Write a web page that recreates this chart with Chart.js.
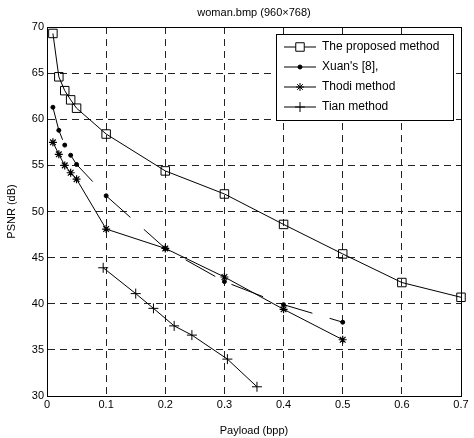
<!DOCTYPE html>
<html>
<head>
<meta charset="utf-8">
<script src="https://cdn.jsdelivr.net/npm/chart.js@4"></script>
<style>
  html, body { margin: 0; padding: 0; background: #fff; }
  #wrap { width: 474px; height: 438px; }
</style>
</head>
<body>
<div id="wrap"><canvas id="psnrChart" width="474" height="438"></canvas></div>
<script>
// Data
const proposedX = [0.01, 0.02, 0.03, 0.04, 0.05, 0.1, 0.2, 0.3, 0.4, 0.5, 0.6, 0.7];
const proposedY = [69.3, 64.6, 63.1, 62.1, 61.2, 58.4, 54.4, 51.9, 48.6, 45.4, 42.3, 40.7];

const xuanX = [0.01, 0.02, 0.03, 0.04, 0.05, 0.1, 0.2, 0.3, 0.4, 0.5];
const xuanY = [61.3, 58.8, 57.2, 56.1, 55.1, 51.7, 46.0, 42.4, 39.9, 38.0];

const thodiX = [0.01, 0.02, 0.03, 0.04, 0.05, 0.1, 0.2, 0.3, 0.4, 0.5];
const thodiY = [57.5, 56.2, 55.0, 54.2, 53.5, 48.1, 46.0, 42.9, 39.4, 36.1];

const tianX = [0.095, 0.15, 0.18, 0.215, 0.245, 0.305, 0.355];
const tianY = [43.9, 41.1, 39.5, 37.6, 36.6, 34.0, 31.0];

const seriesLabels = ['The proposed method', "Xuan's [8],", 'Thodi method', 'Tian method'];

const xTicks = [0, 0.1, 0.2, 0.3, 0.4, 0.5, 0.6, 0.7];
const yTicks = [30, 35, 40, 45, 50, 55, 60, 65, 70];

const toPoints = (xs, ys) => xs.map((x, i) => ({ x: x, y: ys[i] }));
const FONT = 'Liberation Sans, Arial, sans-serif';

// title, box frame and legend drawn inside the plot like the original
const framePlugin = {
    id: 'frame',
    afterDraw(chart) {
        const ctx = chart.ctx;
        const a = chart.chartArea;
        ctx.save();
        ctx.strokeStyle = '#000';
        ctx.lineWidth = 1;
        ctx.setLineDash([]);
        ctx.strokeRect(a.left + 0.5, a.top + 0.5, a.right - a.left, a.bottom - a.top);

        // title
        ctx.fillStyle = '#000';
        ctx.font = '11px ' + FONT;
        ctx.textAlign = 'center';
        ctx.textBaseline = 'middle';
        ctx.fillText('woman.bmp (960\u00d7768)', (a.left + a.right) / 2, 13);

        // legend
        const lx = 276, ly = 34, lw = 177, lh = 86;
        ctx.fillStyle = '#fff';
        ctx.fillRect(lx, ly, lw, lh);
        ctx.strokeRect(lx + 0.5, ly + 0.5, lw, lh);
        chart.data.datasets.forEach((ds, i) => {
            const y = ly + 13 + i * 20;
            ctx.strokeStyle = '#000';
            ctx.beginPath();
            ctx.moveTo(lx + 8, y);
            ctx.lineTo(lx + 40, y);
            ctx.stroke();
            Chart.helpers.drawPoint(ctx, {
                pointStyle: ds.pointStyle,
                radius: ds.pointRadius,
                borderWidth: 1
            }, lx + 24, y);
            ctx.fillStyle = '#000';
            ctx.font = '12px ' + FONT;
            ctx.textAlign = 'left';
            ctx.fillText(ds.label, lx + 46, y);
        });
        ctx.restore();
    }
};

const config = {
    type: 'scatter',
    data: {
        datasets: [{
            label: seriesLabels[0],
            data: toPoints(proposedX, proposedY),
            showLine: true,
            clip: false,
            borderColor: '#000',
            borderWidth: 1,
            pointStyle: 'rect',
            pointRadius: 6,
            backgroundColor: 'rgba(0,0,0,0)',
            pointBorderColor: '#000'
        }, {
            label: seriesLabels[1],
            data: toPoints(xuanX, xuanY),
            showLine: true,
            clip: false,
            borderColor: '#000',
            borderWidth: 1,
            borderDash: [34, 18],
            pointStyle: 'circle',
            pointRadius: 2,
            backgroundColor: '#000',
            pointBorderColor: '#000'
        }, {
            label: seriesLabels[2],
            data: toPoints(thodiX, thodiY),
            showLine: true,
            clip: false,
            borderColor: '#000',
            borderWidth: 1,
            pointStyle: 'star',
            pointRadius: 4,
            backgroundColor: '#000',
            pointBorderColor: '#000',
            pointBorderWidth: 1.2
        }, {
            label: seriesLabels[3],
            data: toPoints(tianX, tianY),
            showLine: true,
            clip: false,
            borderColor: '#000',
            borderWidth: 1,
            pointStyle: 'cross',
            pointRadius: 5,
            backgroundColor: '#000',
            pointBorderColor: '#000'
        }]
    },
    options: {
        responsive: false,
        animation: false,
        layout: { padding: { top: 27, right: 13, left: 0, bottom: 0 } },
        plugins: {
            legend: { display: false },
            title: { display: false },
            tooltip: { enabled: false }
        },
        scales: {
            x: {
                type: 'linear',
                min: 0,
                max: 0.7,
                afterBuildTicks: (scale) => { scale.ticks = xTicks.map(v => ({ value: v })); },
                afterFit: (scale) => { scale.height = 42; },
                ticks: {
                    color: '#000',
                    font: { size: 11, family: FONT },
                    padding: 2,
                    maxRotation: 0,
                    callback: (v) => String(v)
                },
                grid: { color: '#222', lineWidth: 1, tickLength: 0, drawTicks: false },
                border: { display: true, color: '#000', dash: [7, 5] },
                title: { display: true, text: 'Payload (bpp)', color: '#000', font: { size: 11, family: FONT }, padding: { top: 2, bottom: 0 } }
            },
            y: {
                type: 'linear',
                min: 30,
                max: 70,
                afterBuildTicks: (scale) => { scale.ticks = yTicks.map(v => ({ value: v })); },
                afterFit: (scale) => { scale.width = 47; },
                ticks: {
                    color: '#000',
                    font: { size: 11, family: FONT },
                    padding: 3
                },
                grid: { color: '#222', lineWidth: 1, tickLength: 0, drawTicks: false },
                border: { display: true, color: '#000', dash: [7, 5] },
                title: { display: true, text: 'PSNR (dB)', color: '#000', font: { size: 11, family: FONT }, padding: { top: 5, bottom: 4 } }
            }
        }
    },
    plugins: [framePlugin]
};

const ctx = document.getElementById('psnrChart').getContext('2d');
new Chart(ctx, config);
</script>
</body>
</html>
